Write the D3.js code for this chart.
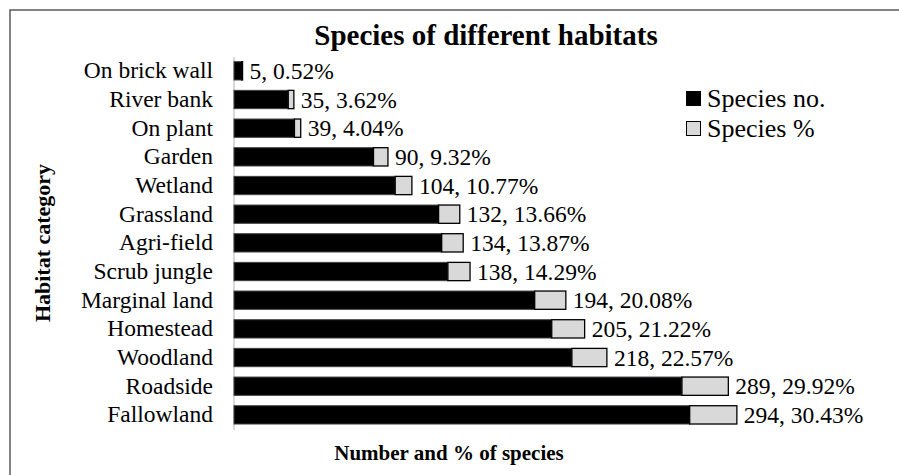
<!DOCTYPE html>
<html>
<head>
<meta charset="utf-8">
<script src="https://cdn.jsdelivr.net/npm/d3@7"></script>
<style>
  html, body { margin: 0; padding: 0; background: #fff; }
  svg { display: block; }
</style>
</head>
<body>
<svg id="chart" width="899" height="475"></svg>
<script>
const categories = ["On brick wall", "River bank", "On plant", "Garden", "Wetland", "Grassland",
  "Agri-field", "Scrub jungle", "Marginal land", "Homestead", "Woodland", "Roadside", "Fallowland"];
const speciesNo = [5, 35, 39, 90, 104, 132, 134, 138, 194, 205, 218, 289, 294];
const speciesPct = [0.52, 3.62, 4.04, 9.32, 10.77, 13.66, 13.87, 14.29, 20.08, 21.22, 22.57, 29.92, 30.43];
const seriesNames = ["Species no.", "Species %"];
const seriesColors = ["#000000", "#d9d9d9"];
const titleText = "Species of different habitats";
const xTitle = "Number and % of species";
const yTitle = "Habitat category";

const FONT = "'Liberation Serif', 'Times New Roman', Tinos, serif";
const svg = d3.select("#chart");

// outer border
svg.append("rect").attr("x", 10).attr("y", 10).attr("width", 900).attr("height", 480)
  .attr("fill", "none").attr("stroke", "#595959").attr("stroke-width", 1.5);

const x = d3.scaleLinear().domain([0, 400]).range([234, 234 + 400 * 1.55]);
const y = d3.scaleBand().domain(categories).range([56.5, 429.2]).paddingInner(0.362).paddingOuter(0.181);

// axis line
svg.append("line").attr("x1", x(0)).attr("x2", x(0)).attr("y1", 57).attr("y2", 430)
  .attr("stroke", "#d9d9d9").attr("stroke-width", 2);

const rows = categories.map((c, i) => ({ c, n: speciesNo[i], p: speciesPct[i] }));

const g = svg.append("g");
g.selectAll("rect.no").data(rows).join("rect").attr("class", "no")
  .attr("x", x(0)).attr("y", d => y(d.c))
  .attr("width", d => x(d.n) - x(0)).attr("height", y.bandwidth())
  .attr("fill", seriesColors[0]).attr("stroke", "#404040").attr("stroke-width", 1);
g.selectAll("rect.pct").data(rows).join("rect").attr("class", "pct")
  .attr("x", d => x(d.n)).attr("y", d => y(d.c))
  .attr("width", d => x(d.n + d.p) - x(d.n)).attr("height", y.bandwidth())
  .attr("fill", seriesColors[1]).attr("stroke", "#000").attr("stroke-width", 1.3);

// value labels
g.selectAll("text.val").data(rows).join("text").attr("class", "val")
  .attr("x", d => x(d.n + d.p) + 7).attr("y", d => y(d.c) + y.bandwidth() / 2)
  .attr("dy", "0.35em").style("font-size", "23.5px").style("font-family", FONT).attr("fill", "#000")
  .text(d => `${d.n}, ${d.p.toFixed(2)}%`);

// category axis
const yAxis = d3.axisLeft(y).tickSize(0).tickPadding(21);
const ya = svg.append("g").attr("transform", `translate(${x(0)},0)`).call(yAxis);
ya.select(".domain").remove();
ya.attr("font-family", null).attr("font-size", null);
ya.selectAll("text").style("font-size", "23.5px").style("font-family", FONT).attr("fill", "#000");

// title
svg.append("text").attr("x", 486).attr("y", 45).attr("text-anchor", "middle")
  .style("font-size", "29px").style("font-weight", "bold").style("font-family", FONT).text(titleText);

// x title
svg.append("text").attr("x", 449).attr("y", 460).attr("text-anchor", "middle")
  .style("font-size", "21px").style("font-weight", "bold").style("font-family", FONT).text(xTitle);

// y title
svg.append("text").attr("transform", "translate(50,243) rotate(-90)").attr("text-anchor", "middle")
  .style("font-size", "22px").style("font-weight", "bold").style("font-family", FONT).text(yTitle);

// legend
const lg = svg.append("g").attr("transform", "translate(686,91)");
seriesNames.forEach((s, i) => {
  const row = lg.append("g").attr("transform", `translate(0,${i * 30})`);
  row.append("rect").attr("x", 0.5).attr("y", 0.5).attr("width", 14).attr("height", 14)
    .attr("fill", seriesColors[i]).attr("stroke", "#000").attr("stroke-width", 1);
  row.append("text").attr("x", 21).attr("y", 16)
    .style("font-size", "26px").style("font-family", FONT).text(s);
});
</script>
</body>
</html>
